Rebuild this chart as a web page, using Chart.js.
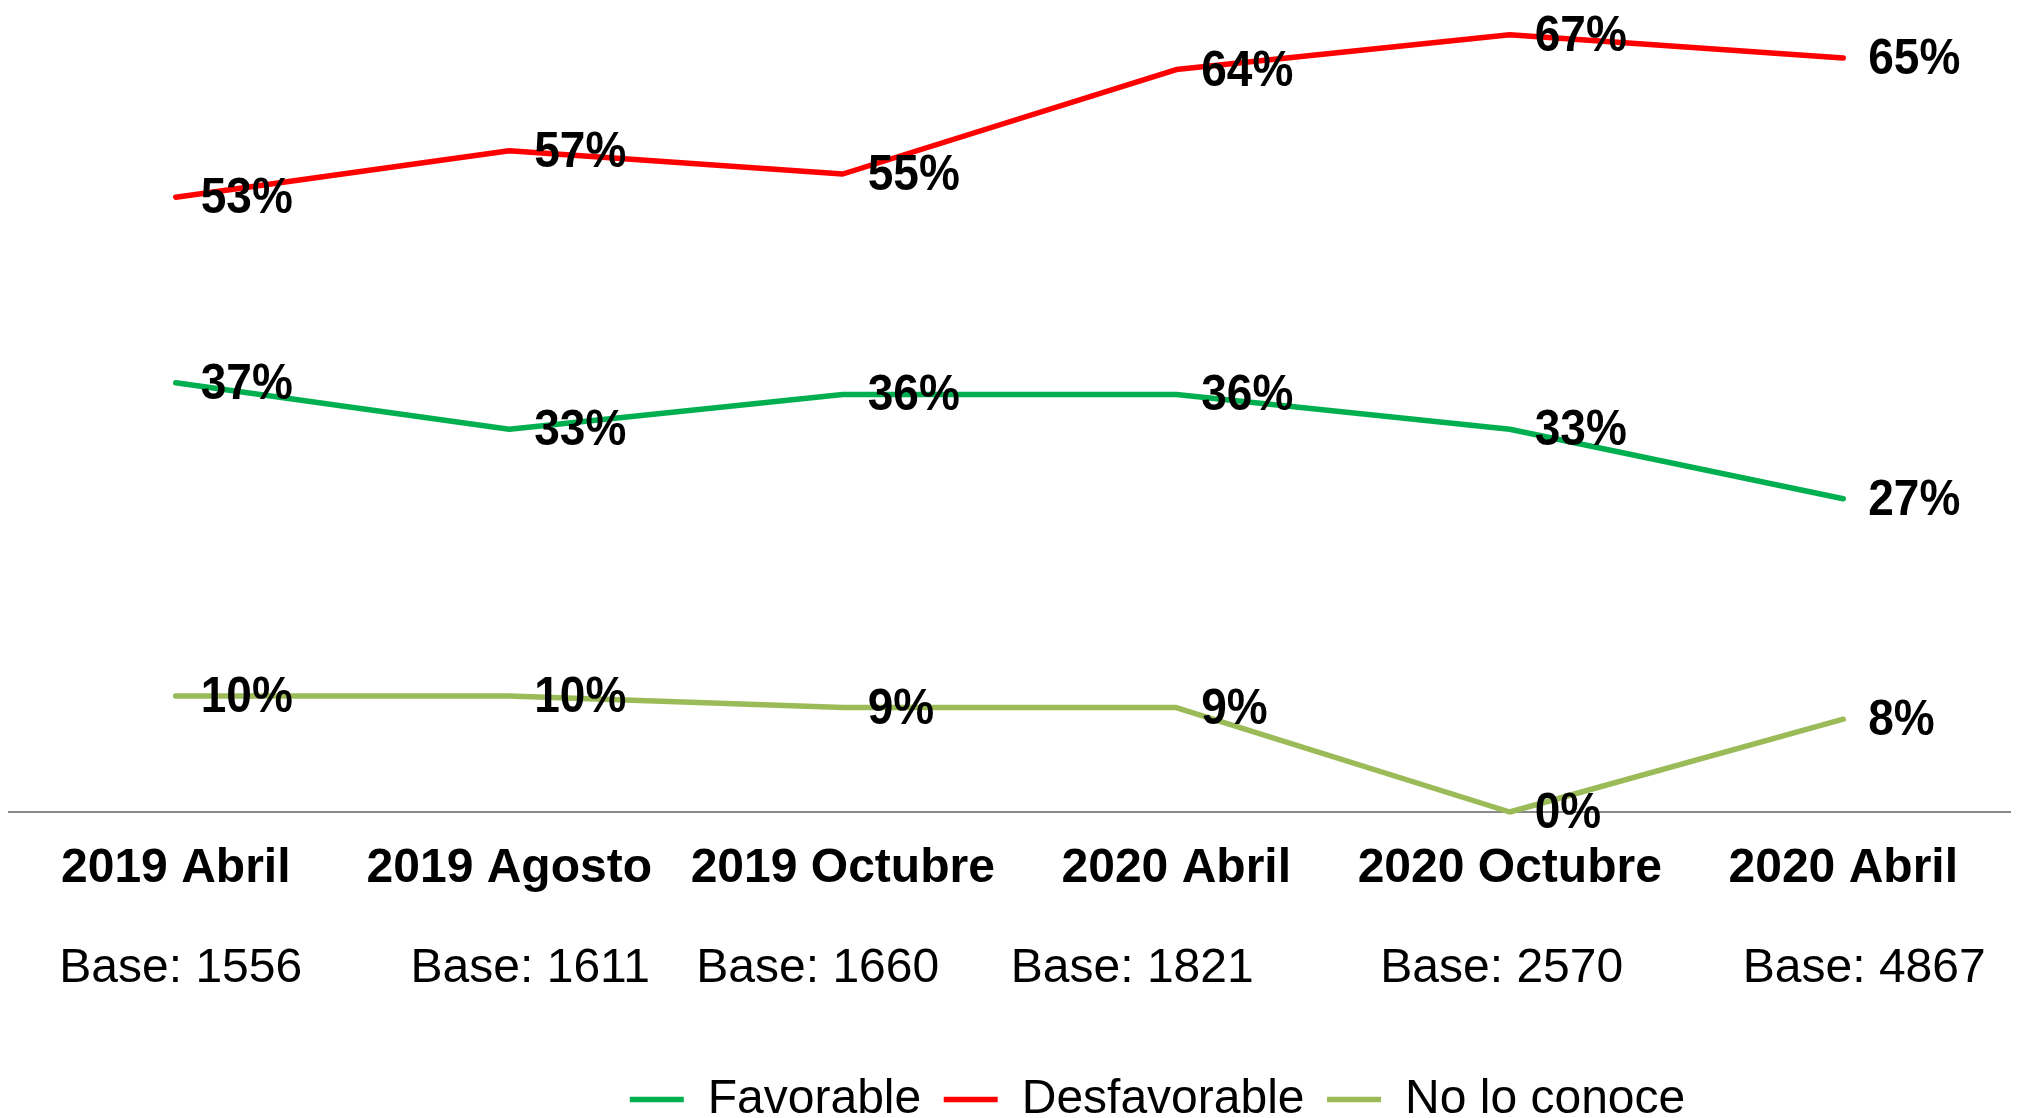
<!DOCTYPE html>
<html>
<head>
<meta charset="utf-8">
<script src="https://cdn.jsdelivr.net/npm/chart.js@4.4.1/dist/chart.umd.min.js"></script>
<style>
  html, body { margin: 0; padding: 0; background: #fff; }
  #wrap { width: 2024px; height: 1118px; }
</style>
</head>
<body>
<div id="wrap"><canvas id="trend-chart"></canvas></div>
<script>
// Data
const periods = ['2019 Abril', '2019 Agosto', '2019 Octubre', '2020 Abril', '2020 Octubre', '2020 Abril'];
const bases = ['Base: 1556', 'Base: 1611', 'Base: 1660', 'Base: 1821', 'Base: 2570', 'Base: 4867'];
const favorable = [37, 33, 36, 36, 33, 27];
const desfavorable = [53, 57, 55, 64, 67, 65];
const noLoConoce = [10, 10, 9, 9, 0, 8];

const FONT = "'Liberation Sans', Arial, sans-serif";
// the base texts are not quite centred under their period in the original
const baseNudge = [5, 21, -25, -44, -8, 21];

const extras = {
    id: 'extras',
    afterLayout(chart) {
        // legend sits right of centre and runs off the bottom edge
        const lg = chart.legend;
        lg.left += 148; lg.right += 148;
        lg.top += 15.5; lg.bottom += 15.5;
    },
    afterDatasetsDraw(chart) {
        const ctx = chart.ctx;
        ctx.save();
        ctx.fillStyle = '#000';
        ctx.textBaseline = 'middle';

        // value labels, to the right of each point (a bit taller than wide in the original)
        ctx.font = 'bold 46px ' + FONT;
        ctx.textAlign = 'left';
        chart.data.datasets.forEach((ds, i) => {
            chart.getDatasetMeta(i).data.forEach((pt, j) => {
                ctx.save();
                ctx.translate(pt.x + 25, pt.y + 2);
                ctx.scale(1, 1.1);
                ctx.fillText(ds.data[j] + '%', 0, 0);
                ctx.restore();
            });
        });

        // sample sizes under the period labels
        const xs = chart.scales.x;
        ctx.font = '48px ' + FONT;
        ctx.textAlign = 'center';
        bases.forEach((b, j) => {
            ctx.fillText(b, xs.getPixelForValue(j) + baseNudge[j], chart.chartArea.bottom + 157);
        });
        ctx.restore();
    }
};

const ctx = document.getElementById('trend-chart').getContext('2d');
new Chart(ctx, {
    type: 'line',
    data: {
        labels: periods,
        datasets: [
            { label: 'Favorable', data: favorable, borderColor: '#00B050', backgroundColor: '#00B050', borderWidth: 5.5 },
            { label: 'Desfavorable', data: desfavorable, borderColor: '#FF0000', backgroundColor: '#FF0000', borderWidth: 5.5 },
            { label: 'No lo conoce', data: noLoConoce, borderColor: '#9BBB59', backgroundColor: '#9BBB59', borderWidth: 5.5 }
        ]
    },
    options: {
        responsive: true,
        maintainAspectRatio: false,
        animation: false,
        layout: { padding: { top: 0, left: 9, right: 14, bottom: 0 } },
        elements: {
            line: { tension: 0, borderCapStyle: 'round', borderJoinStyle: 'round' },
            point: { radius: 0, hoverRadius: 0 }
        },
        datasets: { line: { clip: false } },
        scales: {
            x: {
                offset: true,
                grid: { display: false, drawTicks: false },
                border: { display: true, color: '#898989', width: 2 },
                ticks: {
                    color: '#000',
                    padding: 28,
                    font: { family: FONT, size: 48, weight: 'bold' }
                },
                afterFit(scale) { scale.height = 225.5; }
            },
            y: { display: false, min: 0, max: 70 }
        },
        plugins: {
            tooltip: { enabled: false },
            legend: {
                position: 'bottom',
                labels: {
                    color: '#000',
                    font: { family: FONT, size: 48 },
                    usePointStyle: true,
                    pointStyle: 'line',
                    pointStyleWidth: 54,
                    padding: 22.5
                }
            }
        }
    },
    plugins: [extras]
});
</script>
</body>
</html>
